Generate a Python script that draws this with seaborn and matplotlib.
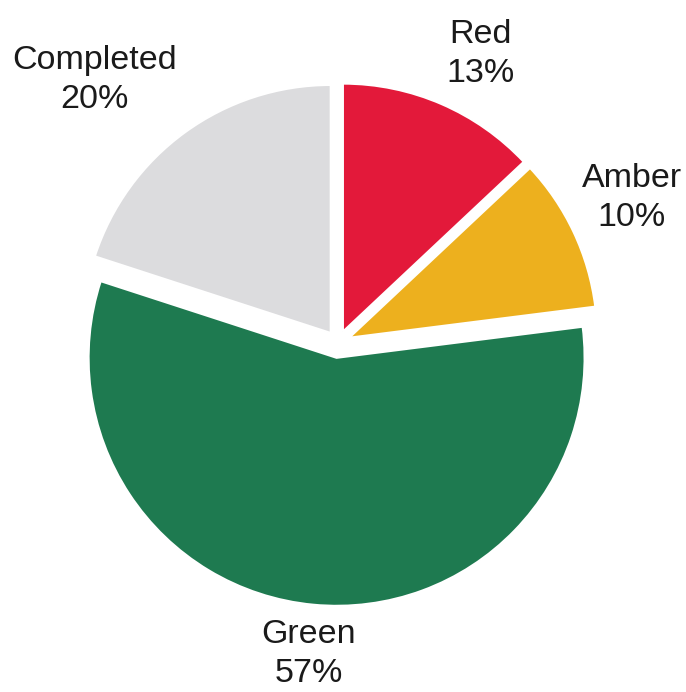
import numpy as np
import matplotlib
matplotlib.use("Agg")
import matplotlib.pyplot as plt
import seaborn as sns

categories = ["Red", "Amber", "Green", "Completed"]
values = [13, 10, 57, 20]
pct_labels = ["13%", "10%", "57%", "20%"]
colors = ["#E3193A", "#EDB01E", "#1E7A50", "#DCDCDE"]

sns.set_theme(style="white")
plt.rcParams['font.family'] = ['Liberation Sans', 'DejaVu Sans']

fig = plt.figure(figsize=(6.86, 6.92), dpi=100)
ax = fig.add_axes([0, 0, 1, 1])
R = 248.0
cx, cy = 338.0, 343.0

palette = sns.color_palette(colors)
explode = [0.05, 0.05, 0.06, 0.05]
label_dist = [1.25, 1.27, 1.20, 1.395]
label_rot = [-2.9, 1.1, 0.0, 7.0]

wedges, texts = ax.pie(values, labels=[f"{c}\n{p}" for c, p in zip(categories, pct_labels)],
                       colors=palette, startangle=90, counterclock=False,
                       explode=explode, radius=1.0, labeldistance=1.2,
                       wedgeprops=dict(edgecolor='white', linewidth=1.5),
                       textprops=dict(fontsize=24.5, color='#1a1a1a'))
ax.set_xlim(-cx / R, (686 - cx) / R)
ax.set_ylim(-(692 - cy) / R, cy / R)
ax.set_aspect('equal')
ax.axis('off')

for w, t, d, r in zip(wedges, texts, label_dist, label_rot):
    ang = np.deg2rad((w.theta1 + w.theta2) / 2 + r)
    x0, y0 = w.center
    t.set_position((x0 + d * np.cos(ang), y0 + d * np.sin(ang)))
    t.set_horizontalalignment('center')
    t.set_verticalalignment('center')
    t.set_multialignment('center')
    t.set_linespacing(1.35)

fig.savefig("out.png", dpi=100, facecolor='white')
